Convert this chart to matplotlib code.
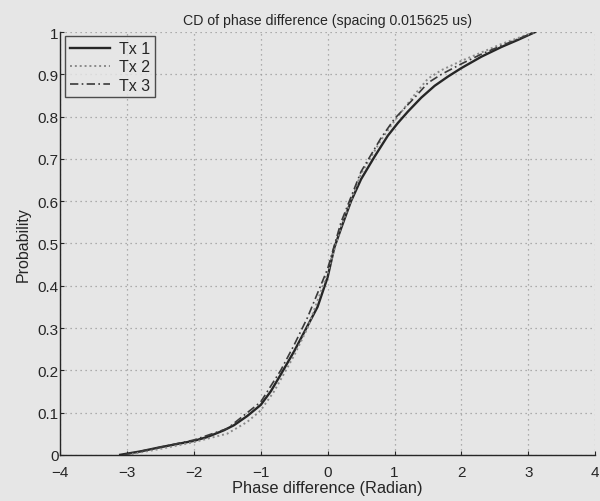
import matplotlib
matplotlib.use("Agg")
import matplotlib.pyplot as plt

plt.rcParams['font.family'] = ['Liberation Sans', 'DejaVu Sans']

# Empirical CDF of the phase difference for each transmitter
tx1_x = [-3.1, -2.8, -2.5, -2.2, -2.0, -1.8, -1.55, -1.4, -1.2, -1.0, -0.85, -0.7,
         -0.5, -0.3, -0.15, 0.0, 0.1, 0.2, 0.35, 0.5, 0.7, 0.9, 1.05, 1.2, 1.4,
         1.6, 1.8, 2.0, 2.3, 2.6, 2.85, 3.1]
tx1_y = [0.0, 0.008, 0.018, 0.027, 0.033, 0.042, 0.058, 0.07, 0.092, 0.118, 0.15, 0.19,
         0.245, 0.305, 0.35, 0.42, 0.49, 0.535, 0.60, 0.652, 0.705, 0.755, 0.785, 0.812, 0.845,
         0.873, 0.895, 0.915, 0.942, 0.965, 0.982, 1.0]

tx2_x = [-3.0, -2.5, -2.0, -1.5, -1.2, -1.0, -0.8, -0.5, -0.3, 0.0, 0.2, 0.5, 0.8,
         1.0, 1.3, 1.5, 1.7, 2.0, 2.3, 2.6, 3.0, 3.1]
tx2_y = [0.0, 0.014, 0.03, 0.05, 0.078, 0.105, 0.15, 0.235, 0.30, 0.43, 0.54, 0.665, 0.745,
         0.79, 0.852, 0.89, 0.91, 0.932, 0.952, 0.972, 0.995, 1.0]

tx3_x = [-3.05, -2.5, -2.0, -1.5, -1.0, -0.7, -0.5, -0.3, 0.0, 0.2, 0.5, 0.8, 1.0,
         1.3, 1.5, 1.7, 2.0, 2.3, 2.6, 3.1]
tx3_y = [0.0, 0.018, 0.035, 0.062, 0.125, 0.20, 0.26, 0.325, 0.44, 0.55, 0.67, 0.75, 0.795,
         0.845, 0.88, 0.90, 0.925, 0.948, 0.968, 1.0]

x_ticks = [-4, -3, -2, -1, 0, 1, 2, 3, 4]
y_ticks = [0, 0.1, 0.2, 0.3, 0.4, 0.5, 0.6, 0.7, 0.8, 0.9, 1]
y_tick_labels = ['0', '0.1', '0.2', '0.3', '0.4', '0.5', '0.6', '0.7', '0.8', '0.9', '1']

bg = '#e6e6e6'
ink = '#262626'

fig = plt.figure(figsize=(6.0, 5.02), dpi=100, facecolor=bg)
ax = fig.add_axes([0.100, 0.092, 0.892, 0.842], facecolor=bg)

ax.plot(tx1_x, tx1_y, color=ink, lw=1.7, ls='-', label='Tx 1')
ax.plot(tx2_x, tx2_y, color='#8a8a8a', lw=1.4, ls=(0, (1, 1.5)), label='Tx 2')
ax.plot(tx3_x, tx3_y, color='#3a3a3a', lw=1.2, ls=(0, (5, 2, 1, 2)), label='Tx 3')

ax.set_xlim(-4, 4)
ax.set_ylim(0, 1)
ax.set_xticks(x_ticks)
ax.set_xticklabels([str(t).replace('-', '\u2212') for t in x_ticks])
ax.set_yticks(y_ticks)
ax.set_yticklabels(y_tick_labels)
ax.tick_params(direction='in', length=3, colors=ink, labelsize=11, width=0.8)
ax.tick_params(axis='x', pad=7)
ax.tick_params(axis='y', pad=1)

ax.grid(True, color='#9a9a9a', ls=(0, (1, 3)), lw=0.9)
for s in ['top', 'right']:
    ax.spines[s].set_visible(False)
for s in ['left', 'bottom']:
    ax.spines[s].set_color(ink)
    ax.spines[s].set_linewidth(1.0)

ax.set_title('CD of phase difference (spacing 0.015625 us)', fontsize=10.2, color=ink, pad=6)
ax.set_xlabel('Phase difference (Radian)', fontsize=11.8, color=ink, labelpad=1)
ax.set_ylabel('Probability', fontsize=11.5, color=ink, labelpad=5)

leg = ax.legend(loc='upper left', bbox_to_anchor=(0.009, 0.99), fontsize=11.5, frameon=True,
                fancybox=False, facecolor=bg, edgecolor=ink, handlelength=2.5,
                borderpad=0.3, labelspacing=0.2, handletextpad=0.6, borderaxespad=0.0)
leg.get_frame().set_linewidth(1.0)
for t in leg.get_texts():
    t.set_color(ink)

fig.savefig('out.png', dpi=100, facecolor=bg)
